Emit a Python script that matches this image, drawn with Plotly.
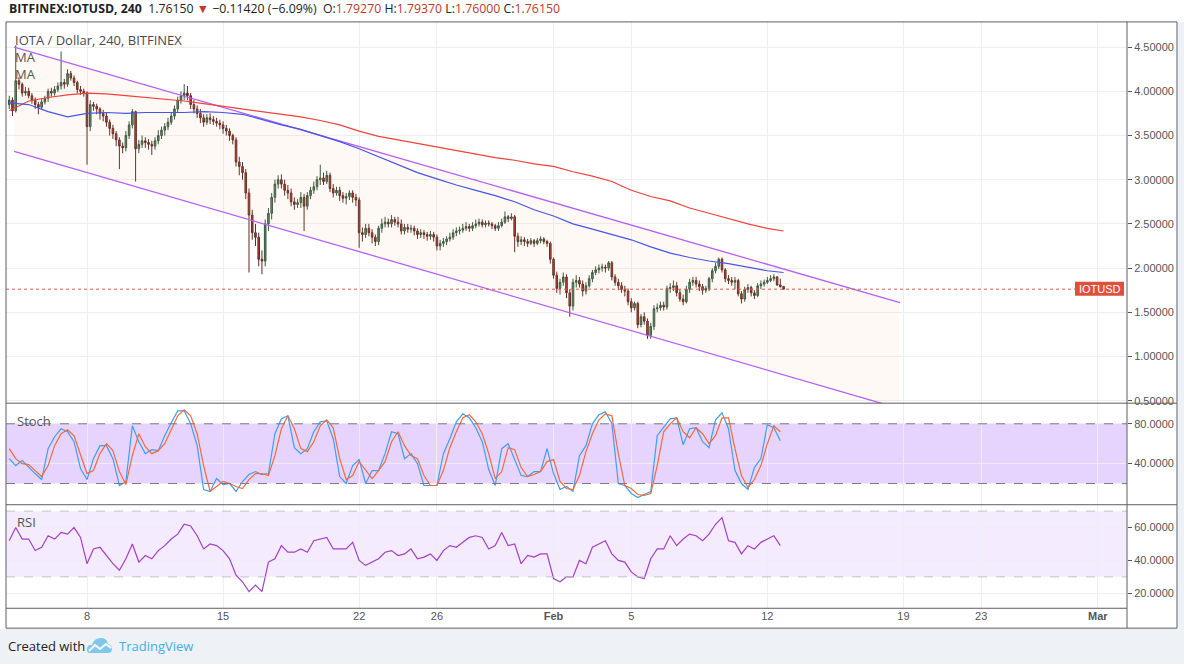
import pandas as pd
import plotly.graph_objects as go

# ---- data (IOTUSD, 4h candles) ----
first_open = 3.85
last_open = 1.7927
closes = [
    3.90, 3.78, 4.12, 4.08, 3.98, 4.00,   3.95, 3.90, 3.85, 3.82, 3.88, 3.92,
    4.00, 3.98, 4.02, 4.06, 4.10, 4.08,   4.20, 4.15, 4.10, 4.02, 4.00, 3.98,
    3.60, 3.85, 3.83, 3.80, 3.75, 3.72,   3.65, 3.58, 3.52, 3.45, 3.38, 3.36,
    3.50, 3.62, 3.77, 3.35, 3.40, 3.44,   3.42, 3.40, 3.38, 3.44, 3.50, 3.56,
    3.60, 3.65, 3.72, 3.80, 3.90, 3.95,   3.98, 3.95, 3.85, 3.80, 3.75, 3.70,
    3.65, 3.70, 3.68, 3.66, 3.64, 3.62,   3.58, 3.55, 3.50, 3.45, 3.20, 3.15,
    3.08, 2.85, 2.60, 2.40, 2.35, 2.10,   2.08, 2.50, 2.62, 2.80, 2.95, 3.00,
    2.95, 2.88, 2.85, 2.75, 2.72, 2.74,   2.80, 2.70, 2.82, 2.88, 2.92, 3.00,
    3.02, 2.98, 3.05, 2.90, 2.85, 2.88,   2.82, 2.79, 2.81, 2.85, 2.80, 2.77,
    2.40, 2.38, 2.45, 2.40, 2.35, 2.30,   2.45, 2.50, 2.52, 2.50, 2.55, 2.52,
    2.50, 2.42, 2.46, 2.44, 2.45, 2.42,   2.38, 2.40, 2.38, 2.36, 2.38, 2.35,
    2.25, 2.28, 2.30, 2.33, 2.35, 2.40,   2.42, 2.43, 2.45, 2.47, 2.45, 2.48,
    2.50, 2.52, 2.49, 2.51, 2.50, 2.48,   2.45, 2.48, 2.52, 2.58, 2.56, 2.58,
    2.36, 2.30, 2.32, 2.30, 2.28, 2.31,   2.28, 2.31, 2.33, 2.30, 2.28, 2.10,
    1.92, 1.77, 1.84, 1.90, 1.72, 1.57,   1.84, 1.86, 1.82, 1.74, 1.80, 1.88,
    1.95, 1.98, 2.00, 2.01, 2.00, 2.06,   1.90, 1.84, 1.80, 1.76, 1.74, 1.62,
    1.55, 1.60, 1.36, 1.45, 1.40, 1.24,   1.34, 1.54, 1.55, 1.58, 1.56, 1.77,
    1.78, 1.80, 1.72, 1.65, 1.62, 1.76,   1.84, 1.86, 1.82, 1.79, 1.75, 1.77,
    1.88, 1.97, 2.02, 2.10, 1.98, 1.88,   1.86, 1.84, 1.86, 1.71, 1.65, 1.76,
    1.78, 1.72, 1.69, 1.80, 1.82, 1.84,   1.86, 1.88, 1.90, 1.81, 1.79, 1.7615,
]
highs = [
    3.95, 3.93, 4.52, 4.16, 4.10, 4.05,   4.04, 3.98, 3.93, 3.88, 3.92, 3.95,
    4.03, 4.04, 4.06, 4.10, 4.45, 4.14,   4.25, 4.23, 4.18, 4.12, 4.06, 4.03,
    4.00, 3.90, 3.88, 3.86, 3.82, 3.79,   3.76, 3.68, 3.62, 3.55, 3.48, 3.42,
    3.55, 3.66, 3.80, 3.78, 3.45, 3.50,   3.48, 3.46, 3.44, 3.48, 3.56, 3.60,
    3.64, 3.70, 3.76, 3.84, 3.94, 4.00,   4.08, 4.06, 3.98, 3.90, 3.84, 3.80,
    3.74, 3.74, 3.75, 3.72, 3.70, 3.68,   3.66, 3.62, 3.58, 3.52, 3.48, 3.26,
    3.20, 3.12, 2.90, 2.66, 2.50, 2.40,   2.20, 2.55, 2.68, 2.85, 3.00, 3.05,
    3.06, 3.00, 2.94, 2.90, 2.80, 2.78,   2.86, 2.84, 2.86, 2.92, 2.98, 3.04,
    3.17, 3.08, 3.10, 3.08, 2.95, 2.92,   2.92, 2.86, 2.85, 2.88, 2.88, 2.84,
    2.80, 2.46, 2.50, 2.50, 2.44, 2.38,   2.48, 2.56, 2.58, 2.56, 2.60, 2.58,
    2.58, 2.55, 2.50, 2.50, 2.49, 2.48,   2.45, 2.44, 2.43, 2.41, 2.42, 2.41,
    2.38, 2.32, 2.34, 2.36, 2.40, 2.44,   2.46, 2.47, 2.50, 2.52, 2.50, 2.52,
    2.55, 2.56, 2.55, 2.54, 2.54, 2.52,   2.50, 2.52, 2.56, 2.64, 2.60, 2.62,
    2.60, 2.40, 2.36, 2.35, 2.33, 2.34,   2.33, 2.34, 2.36, 2.35, 2.32, 2.30,
    2.12, 1.96, 1.88, 1.95, 1.93, 1.76,   1.88, 1.92, 1.90, 1.86, 1.84, 1.92,
    1.98, 2.02, 2.04, 2.05, 2.04, 2.08,   2.08, 1.93, 1.88, 1.84, 1.80, 1.77,
    1.66, 1.62, 1.62, 1.48, 1.50, 1.43,   1.38, 1.58, 1.60, 1.62, 1.62, 1.80,
    1.83, 1.86, 1.84, 1.76, 1.70, 1.80,   1.88, 1.90, 1.90, 1.86, 1.82, 1.80,
    1.90, 2.00, 2.06, 2.12, 2.12, 2.00,   1.92, 1.90, 1.90, 1.88, 1.74, 1.79,
    1.82, 1.80, 1.75, 1.83, 1.86, 1.87,   1.90, 1.92, 1.93, 1.91, 1.88, 1.7937,
]
lows = [
    3.80, 3.72, 3.76, 4.02, 3.94, 3.95,   3.92, 3.86, 3.80, 3.74, 3.80, 3.85,
    3.88, 3.94, 3.95, 3.99, 4.02, 4.03,   4.05, 4.12, 4.06, 3.98, 3.96, 3.94,
    3.17, 3.55, 3.78, 3.74, 3.68, 3.66,   3.60, 3.50, 3.46, 3.38, 3.12, 3.30,
    3.32, 3.46, 3.58, 2.98, 3.30, 3.36,   3.36, 3.34, 3.28, 3.34, 3.40, 3.46,
    3.50, 3.56, 3.62, 3.68, 3.76, 3.86,   3.90, 3.90, 3.80, 3.75, 3.70, 3.64,
    3.60, 3.62, 3.63, 3.62, 3.60, 3.57,   3.52, 3.50, 3.44, 3.40, 3.15, 3.05,
    3.00, 2.78, 1.95, 2.32, 2.25, 2.02,   1.93, 2.02, 2.42, 2.55, 2.74, 2.90,
    2.90, 2.82, 2.78, 2.70, 2.66, 2.68,   2.68, 2.42, 2.66, 2.78, 2.84, 2.88,
    2.94, 2.94, 2.95, 2.86, 2.80, 2.82,   2.76, 2.74, 2.72, 2.77, 2.74, 2.70,
    2.23, 2.30, 2.34, 2.36, 2.28, 2.25,   2.26, 2.40, 2.46, 2.46, 2.46, 2.48,
    2.46, 2.38, 2.38, 2.40, 2.40, 2.37,   2.33, 2.34, 2.33, 2.31, 2.32, 2.30,
    2.20, 2.20, 2.24, 2.26, 2.30, 2.32,   2.36, 2.38, 2.40, 2.42, 2.41, 2.42,
    2.45, 2.47, 2.46, 2.46, 2.47, 2.44,   2.42, 2.42, 2.46, 2.50, 2.52, 2.54,
    2.18, 2.24, 2.26, 2.25, 2.24, 2.26,   2.24, 2.26, 2.28, 2.27, 2.24, 2.05,
    1.88, 1.72, 1.70, 1.80, 1.66, 1.45,   1.52, 1.78, 1.78, 1.68, 1.70, 1.78,
    1.84, 1.92, 1.94, 1.96, 1.95, 1.97,   1.86, 1.80, 1.75, 1.72, 1.68, 1.58,
    1.50, 1.52, 1.32, 1.33, 1.36, 1.20,   1.20, 1.30, 1.50, 1.52, 1.52, 1.53,
    1.72, 1.74, 1.68, 1.62, 1.58, 1.60,   1.72, 1.80, 1.78, 1.74, 1.70, 1.72,
    1.74, 1.84, 1.94, 1.99, 1.95, 1.84,   1.82, 1.80, 1.76, 1.68, 1.60, 1.62,
    1.72, 1.68, 1.65, 1.67, 1.76, 1.79,   1.82, 1.84, 1.85, 1.80, 1.78, 1.76,
]

# daily samples of the two moving averages (last one = final candle)
ma_fast = [3.87, 3.85, 3.77, 3.71, 3.75, 3.76, 3.75, 3.76, 3.76, 3.76,
           3.77, 3.76, 3.74, 3.68, 3.62, 3.57, 3.50, 3.43, 3.35, 3.26,
           3.17, 3.08, 3.01, 2.94, 2.88, 2.82, 2.75, 2.66, 2.59, 2.50,
           2.44, 2.38, 2.32, 2.24, 2.17, 2.12, 2.08, 2.05, 2.01, 1.97, 1.95]
ma_slow = [3.78, 3.89, 3.93, 3.96, 3.98, 3.97, 3.95, 3.93, 3.91, 3.89,
           3.86, 3.83, 3.80, 3.77, 3.74, 3.71, 3.67, 3.62, 3.55, 3.49,
           3.45, 3.41, 3.37, 3.33, 3.29, 3.25, 3.22, 3.18, 3.15, 3.09,
           3.04, 2.98, 2.88, 2.81, 2.76, 2.68, 2.62, 2.56, 2.50, 2.45, 2.42]

# descending channel drawn on the chart
channel_dates = ["2018-01-04 06:00", "2018-02-18 19:40"]
channel_upper = [4.50, 1.61]
channel_lower = [3.32, 0.41]

# oscillators, one value every two candles
stoch_k = [45, 38, 43, 36, 30, 24, 55, 67, 75, 72, 62, 35, 24, 45, 58, 58, 45, 18, 22, 78,
           62, 50, 54, 53, 68, 81, 93, 93, 80, 58, 14, 12, 25, 19, 20, 12, 22, 29, 32, 29,
           30, 70, 85, 88, 56, 50, 55, 72, 82, 83, 65, 27, 20, 38, 44, 20, 33, 33, 50, 72,
           70, 45, 50, 40, 18, 18, 18, 50, 65, 82, 90, 86, 76, 62, 34, 18, 55, 60, 43, 28,
           27, 32, 32, 55, 30, 14, 17, 12, 48, 58, 80, 89, 92, 80, 20, 18, 10, 6, 9, 12,
           68, 76, 85, 86, 59, 75, 76, 62, 56, 84, 91, 75, 33, 20, 14, 36, 45, 79, 76, 63]
stoch_d = [55, 45, 40, 39, 33, 27, 38, 58, 70, 74, 68, 50, 30, 33, 50, 60, 53, 32, 19, 48,
           70, 57, 50, 53, 60, 74, 88, 94, 88, 70, 38, 12, 17, 22, 20, 17, 15, 24, 30, 30,
           28, 48, 75, 88, 75, 55, 52, 62, 78, 84, 76, 45, 24, 28, 42, 33, 25, 33, 42, 62,
           72, 58, 48, 45, 28, 18, 18, 33, 56, 72, 86, 89, 82, 70, 50, 25, 32, 56, 54, 36,
           27, 29, 32, 42, 44, 22, 15, 14, 28, 52, 70, 84, 90, 88, 50, 18, 15, 9, 8, 10,
           38, 72, 80, 86, 72, 66, 76, 70, 60, 68, 86, 86, 55, 28, 16, 24, 38, 60, 78, 72]
rsi = [52, 60, 53, 53, 46, 48, 55, 53, 57, 56, 60, 54, 38, 47, 48, 43, 38, 34, 41, 50,
       39, 43, 41, 46, 49, 53, 56, 62, 61, 55, 47, 50, 49, 46, 41, 31, 27, 21, 25, 21,
       39, 41, 49, 45, 45, 47, 45, 52, 53, 54, 47, 47, 47, 51, 40, 37, 39, 41, 45, 46,
       43, 44, 47, 41, 42, 44, 40, 46, 49, 48, 51, 54, 55, 54, 47, 49, 57, 49, 50, 38,
       43, 42, 44, 44, 29, 27, 30, 30, 40, 38, 48, 50, 52, 44, 40, 39, 33, 30, 29, 41,
       47, 47, 55, 49, 53, 56, 55, 52, 56, 62, 66, 52, 51, 44, 49, 47, 51, 53, 55, 49]

tick_dates = ["2018-01-08", "2018-01-15", "2018-01-22", "2018-01-26", "2018-02-01",
              "2018-02-05", "2018-02-12", "2018-02-19", "2018-02-23", "2018-03-01"]
tick_labels = ["8", "15", "22", "26", "<b>Feb</b>", "5", "12", "19", "23", "<b>Mar</b>"]
price_ticks = [0.5, 1.0, 1.5, 2.0, 2.5, 3.0, 3.5, 4.0, 4.5]

# ---- derived series ----
candle_times = pd.date_range("2018-01-04 00:00", periods=len(closes), freq="4h")
opens = [first_open] + closes[:-1]
opens[-1] = last_open
osc_times = pd.date_range("2018-01-04 00:00", periods=len(stoch_k), freq="8h")
ma_times = list(pd.date_range("2018-01-04", periods=len(ma_fast) - 1, freq="D")) + [candle_times[-1]]

W, H = 1184, 667


def px(x):
    return x / W


def py(y):
    return 1 - y / H


X_DOM = [px(6), px(1127)]
X_RANGE = ["2018-01-03 20:00", "2018-03-02 12:00"]
GRID = "#eceef2"
TXT = "#555555"
FRAME = "#5b5e66"

fig = go.Figure()

# channel (fill first so it sits under the candles)
fig.add_scatter(x=channel_dates, y=channel_upper, mode="lines",
                line=dict(color="#b65ff6", width=1.3), hoverinfo="skip")
fig.add_scatter(x=channel_dates, y=channel_lower, mode="lines", fill="tonexty",
                fillcolor="rgba(255,170,110,0.07)",
                line=dict(color="#b65ff6", width=1.3), hoverinfo="skip")

fig.add_trace(go.Candlestick(
    x=candle_times, open=opens, high=highs, low=lows, close=closes,
    increasing=dict(line=dict(color="#35553f", width=1), fillcolor="#55946a"),
    decreasing=dict(line=dict(color="#5e2a24", width=1), fillcolor="#bf3a2c"),
    whiskerwidth=0, hoverinfo="skip"))

fig.add_scatter(x=ma_times, y=ma_slow, mode="lines", line=dict(color="#f2413a", width=1.2), hoverinfo="skip")
fig.add_scatter(x=ma_times, y=ma_fast, mode="lines", line=dict(color="#4656e8", width=1.2), hoverinfo="skip")

# stochastic
fig.add_scatter(x=osc_times, y=stoch_k, mode="lines", line=dict(color="#3d9ef4", width=1.2),
                xaxis="x2", yaxis="y2", hoverinfo="skip")
fig.add_scatter(x=osc_times, y=stoch_d, mode="lines", line=dict(color="#f26a3c", width=1.2),
                xaxis="x2", yaxis="y2", hoverinfo="skip")

# RSI
fig.add_scatter(x=osc_times, y=rsi, mode="lines", line=dict(color="#a43fc6", width=1.2),
                xaxis="x3", yaxis="y3", hoverinfo="skip")

xcommon = dict(type="date", range=X_RANGE, domain=X_DOM, tickvals=tick_dates, ticktext=tick_labels,
               showgrid=True, gridcolor=GRID, zeroline=False, showline=False, ticks="",
               fixedrange=True)
ycommon = dict(side="right", showgrid=True, gridcolor=GRID, zeroline=False, showline=False,
               ticks="outside", ticklen=4, tickcolor=TXT, tickfont=dict(size=11, color=TXT,
               family="Liberation Sans, Arial"), fixedrange=True)

fig.update_layout(
    width=W, height=H, margin=dict(l=0, r=0, t=0, b=0),
    paper_bgcolor="white", plot_bgcolor="white", showlegend=False,
    font=dict(family="Liberation Sans, Arial", size=11, color=TXT),
    xaxis=dict(xcommon, anchor="y", showticklabels=False, rangeslider=dict(visible=False)),
    xaxis2=dict(xcommon, anchor="y2", matches="x", showticklabels=False),
    xaxis3=dict(xcommon, anchor="y3", matches="x", showticklabels=True,
                tickfont=dict(size=11, color=TXT, family="Liberation Sans, Arial")),
    yaxis=dict(ycommon, anchor="x", domain=[py(405), py(22)], range=[0.472, 4.785],
               tickvals=price_ticks, tickformat=".5f"),
    yaxis2=dict(ycommon, anchor="x2", domain=[py(507), py(405)], range=[-1.3, 100.7],
                tickvals=[40, 80], tickformat=".4f"),
    yaxis3=dict(ycommon, anchor="x3", domain=[py(611), py(507)], range=[10.9, 73.9],
                tickvals=[20, 40, 60], tickformat=".4f"),
)

shapes = []
# oscillator bands
shapes.append(dict(type="rect", xref="paper", yref="y2", x0=X_DOM[0], x1=X_DOM[1], y0=20, y1=80,
                   fillcolor="rgba(170,100,250,0.28)", line_width=0, layer="below"))
shapes.append(dict(type="rect", xref="paper", yref="y3", x0=X_DOM[0], x1=X_DOM[1], y0=30, y1=70,
                   fillcolor="rgba(190,130,250,0.16)", line_width=0, layer="below"))
for lvl in (20, 80):
    shapes.append(dict(type="line", xref="paper", yref="y2", x0=X_DOM[0], x1=X_DOM[1], y0=lvl, y1=lvl,
                       line=dict(color="#7d7a84", width=1, dash="dash")))
for lvl in (30, 70):
    shapes.append(dict(type="line", xref="paper", yref="y3", x0=X_DOM[0], x1=X_DOM[1], y0=lvl, y1=lvl,
                       line=dict(color="#c3bfcb", width=1, dash="dash")))
# last price line
shapes.append(dict(type="line", xref="paper", yref="y", x0=X_DOM[0], x1=px(1075), y0=closes[-1], y1=closes[-1],
                   line=dict(color="#e5594b", width=1, dash="dot")))
shapes.append(dict(type="rect", xref="paper", yref="paper", x0=px(1075), x1=px(1124), y0=py(297), y1=py(283),
                   fillcolor="#de4f3c", line_width=0))
# outer background strips
shapes.append(dict(type="rect", xref="paper", yref="paper", x0=0, x1=1, y0=0, y1=py(631.5),
                   fillcolor="#eef1f5", line_width=0, layer="below"))
shapes.append(dict(type="rect", xref="paper", yref="paper", x0=px(1177.5), x1=1, y0=0, y1=py(22),
                   fillcolor="#eef1f5", line_width=0, layer="below"))
# frame and pane separators
frame = dict(color=FRAME, width=1)
shapes.append(dict(type="rect", xref="paper", yref="paper", x0=px(6), x1=px(1177), y0=py(631), y1=py(22),
                   line=frame))
for yy in (405, 507):
    shapes.append(dict(type="line", xref="paper", yref="paper", x0=px(6), x1=px(1177), y0=py(yy), y1=py(yy),
                       line=frame))
shapes.append(dict(type="line", xref="paper", yref="paper", x0=px(6), x1=px(1127), y0=py(611), y1=py(611),
                   line=frame))
shapes.append(dict(type="line", xref="paper", yref="paper", x0=px(1127), x1=px(1127), y0=py(631), y1=py(22),
                   line=frame))


def path(points):
    out = []
    for cmd, pts in points:
        coords = " ".join(f"{px(a):.5f},{py(b):.5f}" for a, b in pts)
        out.append(cmd + coords)
    return " ".join(out)


cloud = [("M", [(90, 656)]), ("Q", [(86, 656), (87, 651)]), ("Q", [(88, 647), (92, 648)]),
         ("Q", [(94, 641), (101, 641)]), ("Q", [(107, 641), (108, 647)]),
         ("Q", [(112, 648), (112, 652)]), ("Q", [(112, 656), (108, 656)])]
shapes.append(dict(type="path", xref="paper", yref="paper", path=path(cloud) + " Z",
                   fillcolor="#7fc8ec", line_width=0))
zig = "M" + " L".join(f"{px(a):.5f},{py(b):.5f}" for a, b in [(89, 654), (95, 648), (100, 652), (106, 647), (111, 651)])
shapes.append(dict(type="path", xref="paper", yref="paper", path=zig, line=dict(color="white", width=2)))
fig.update_layout(shapes=shapes)

RED = "#c0392b"
header = ("<b>BITFINEX:IOTUSD, 240</b>  1.76150 <span style='color:%s'>▼</span> −0.11420 (−6.09%%)  "
          "O:<span style='color:%s'>1.79270</span> H:<span style='color:%s'>1.79370</span> "
          "L:<span style='color:%s'>1.76000</span> C:<span style='color:%s'>1.76150</span>") % ((RED,) * 5)

ann = [
    dict(x=px(7), y=py(9), text=header, font=dict(size=12.3, color="#222222", family="Open Sans")),
    dict(x=px(13), y=py(40), text="IOTA / Dollar, 240, BITFINEX", font=dict(size=13, color="#4a4a4a", family="Open Sans")),
    dict(x=px(13), y=py(57), text="MA", font=dict(size=13, color="#555555", family="Open Sans")),
    dict(x=px(13), y=py(74), text="MA", font=dict(size=13, color="#555555", family="Open Sans")),
    dict(x=px(15), y=py(423), text="Stoch", font=dict(size=13, color="#555555", family="Open Sans")),
    dict(x=px(15), y=py(524), text="RSI", font=dict(size=13, color="#555555", family="Open Sans")),
    dict(x=px(1099.5), y=py(290), text="IOTUSD", xanchor="center",
         font=dict(size=11, color="white", family="Liberation Sans, Arial")),
    dict(x=px(6), y=py(649), text="Created with", font=dict(size=13, color="#222222", family="Open Sans")),
    dict(x=px(117), y=py(649), text="TradingView", font=dict(size=13, color="#3db0e6", family="Open Sans")),
]
for a in ann:
    a.setdefault("xanchor", "left")
    a.update(xref="paper", yref="paper", yanchor="middle", showarrow=False)
fig.update_layout(annotations=ann)

fig.write_html("out.html", config={"displayModeBar": False},
               post_script="document.body.style.margin='0';document.body.style.overflow='hidden';")
